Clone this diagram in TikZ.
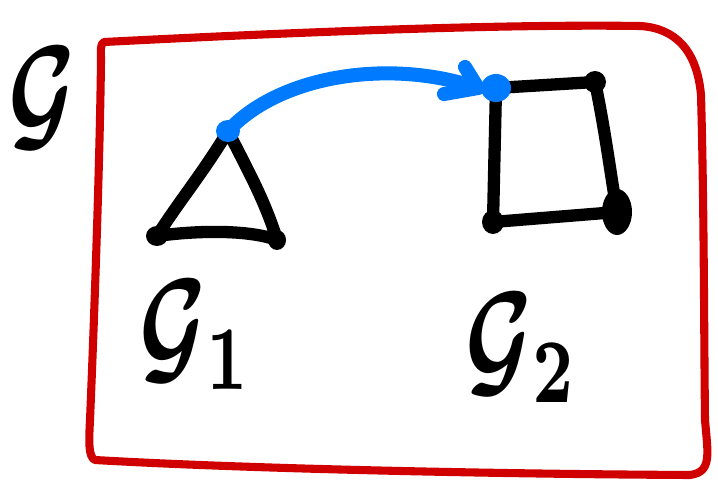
\documentclass[tikz,border=0pt]{standalone}
\usepackage{amsmath}
\usepackage{bm}
\definecolor{frame}{RGB}{208,0,0}
\definecolor{arrowblue}{RGB}{0,122,255}
\tikzset{
  inkline/.style={line width=7pt, line cap=round, line join=round, black},
  frameline/.style={line width=4.6pt, line cap=round, line join=round, frame},
  blueline/.style={line width=8pt, line cap=round, line join=round, arrowblue},
  blob/.style={fill=black, draw=none},
  bluedot/.style={fill=arrowblue, draw=none},
  glabel/.style={inner sep=0pt, xscale=5.2, yscale=7.4}
}
\begin{document}
\begin{tikzpicture}[x=0.02cm, y=-0.02cm]
\useasboundingbox (0,0) rectangle (718,486);
% frame
\draw[frameline] (104,42) .. controls (300,32) and (500,24) .. (640,26)
  .. controls (675,28) and (697,50) .. (701,95)
  .. controls (704,200) and (704,330) .. (705,420)
  .. controls (708,455) and (712,472) .. (690,475)
  .. controls (500,474) and (250,469) .. (95,460)
  .. controls (88,457) and (89,440) .. (90,420)
  .. controls (95,300) and (100,150) .. (101,60)
  .. controls (101,50) and (100,44) .. (104,42) -- cycle;
% label of the whole graph
\node[glabel] (G) at (42,98) {$\bm{\mathcal{G}}$};
% triangle
\coordinate (tA) at (228,131);
\coordinate (tB) at (157,236);
\coordinate (tC) at (277,240);
\draw[inkline] (tA) .. controls (205,170) and (180,200) .. (tB)
  .. controls (200,230) and (250,230) .. (tC)
  .. controls (265,200) and (245,165) .. (tA);
\fill[blob] (tB) ellipse (11 and 10);
\fill[blob] (tC) ellipse (9 and 10);
% square
\coordinate (sA) at (496,88);
\coordinate (sB) at (595,82);
\coordinate (sC) at (617,212);
\coordinate (sD) at (493,222);
\draw[inkline] (sA) -- (sB) .. controls (605,130) and (610,170) .. (sC)
  -- (sD) -- (sA);
\fill[blob] (sB) ellipse (11 and 11);
\fill[blob] (sC) ellipse (15 and 23);
\fill[blob] (sD) ellipse (11 and 12);
\fill[blob] (sA) ellipse (12 and 12);
% blue arrow
\coordinate (tip) at (478,88);
\coordinate (barbU) at (465,67);
\coordinate (barbL) at (444,94);
\draw[blueline] (tA) .. controls (280,75) and (390,58) .. (tip);
\draw[blueline] (barbU) -- (tip) -- (barbL);
\fill[bluedot] (tA) ellipse (12 and 11);
\fill[bluedot] (sA) ellipse (15 and 14);
% sub-graph labels
\node[glabel] (G1) at (196,335) {$\bm{\mathcal{G}_1}$};
\node[glabel] (G2) at (522,348) {$\bm{\mathcal{G}_2}$};
\end{tikzpicture}
\end{document}
